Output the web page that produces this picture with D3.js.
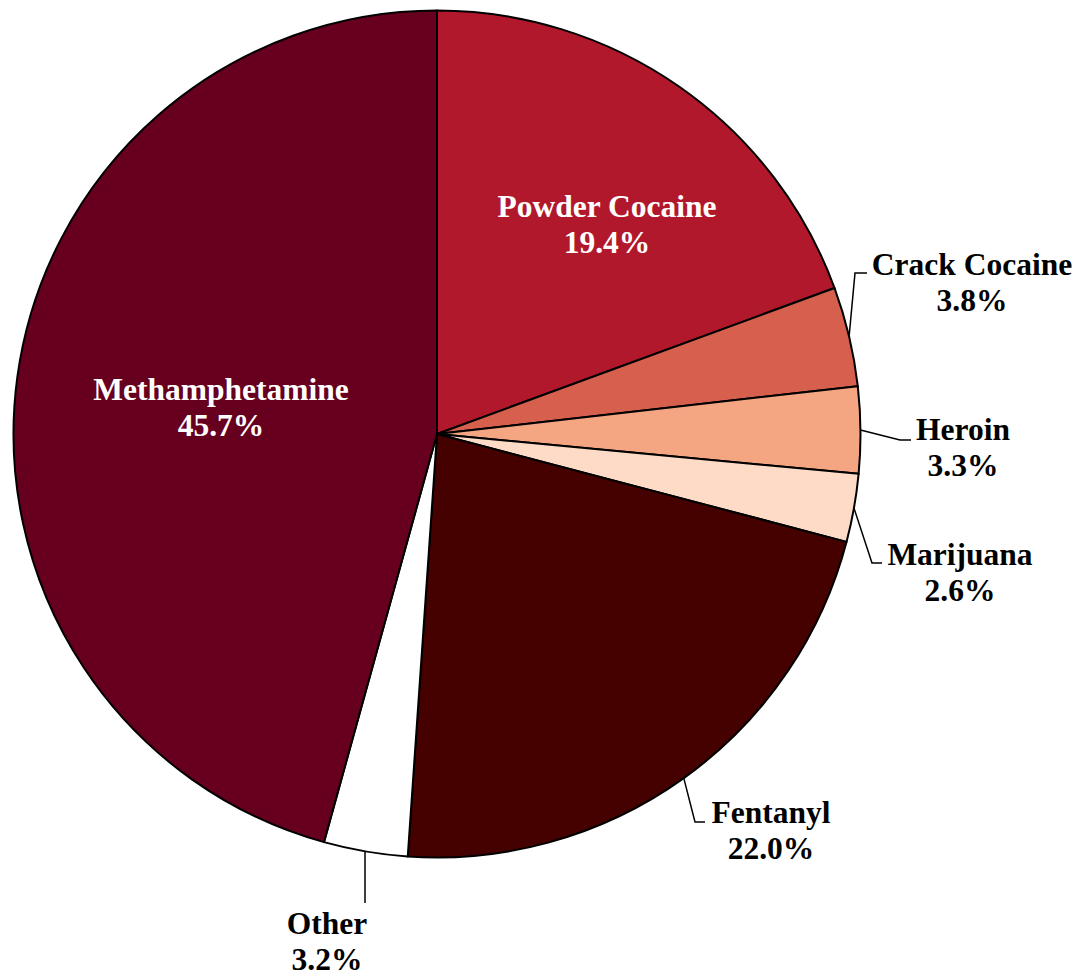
<!DOCTYPE html>
<html>
<head>
<meta charset="utf-8">
<script src="https://cdn.jsdelivr.net/npm/d3@7"></script>
<style>
  html, body { margin: 0; padding: 0; background: #fff; }
  svg text { font-family: "Liberation Serif", "Times New Roman", serif; font-weight: bold; }
</style>
</head>
<body>
<div id="chart"></div>
<script>
const drugs = ["Powder Cocaine", "Crack Cocaine", "Heroin", "Marijuana", "Fentanyl", "Other", "Methamphetamine"];
const shares = [19.4, 3.8, 3.3, 2.6, 22.0, 3.2, 45.7];
const colors = ["#b2182b", "#d6604d", "#f4a582", "#fddbc7", "#450000", "#ffffff", "#67001f"];

// where each label sits: text centre x, first baseline, and leader elbow / end (no elbow = inside)
const labelLayout = {
  "Powder Cocaine": { x: 607, y: 217, fill: "#fff" },
  "Methamphetamine": { x: 221, y: 400, fill: "#fff" },
  "Crack Cocaine": { x: 972, y: 275, elbow: [855, 273], end: [867, 273] },
  "Heroin": { x: 963, y: 440, elbow: [900, 440], end: [911, 440] },
  "Marijuana": { x: 960, y: 565, elbow: [872, 563], end: [882, 563] },
  "Fentanyl": { x: 771, y: 823, elbow: [695, 822], end: [705, 822] },
  "Other": { x: 327, y: 934, elbow: [365, 903], end: null }
};

const width = 1089, height = 976;
const cx = 437, cy = 434, radius = 423.5;

const svg = d3.select("#chart").append("svg")
  .attr("width", width)
  .attr("height", height);

const data = drugs.map((d, i) => ({ name: d, value: shares[i], color: colors[i] }));

const pie = d3.pie().value(d => d.value).sort(null);
const arc = d3.arc().innerRadius(0).outerRadius(radius);
const arcs = pie(data);

const g = svg.append("g").attr("transform", `translate(${cx},${cy})`);

g.selectAll("path")
  .data(arcs)
  .enter()
  .append("path")
  .attr("d", arc)
  .attr("fill", d => d.data.color)
  .attr("stroke", "#000")
  .attr("stroke-width", 2)
  .attr("stroke-linejoin", "round");

// leader lines
arcs.forEach(d => {
  const lay = labelLayout[d.data.name];
  if (!lay.elbow) return;
  const mid = (d.startAngle + d.endAngle) / 2;
  const start = [cx + radius * Math.sin(mid), cy - radius * Math.cos(mid)];
  if (!lay.end) start[0] = lay.elbow[0];
  const pts = [start, lay.elbow];
  if (lay.end) pts.push(lay.end);
  svg.append("path")
    .attr("d", d3.line()(pts))
    .attr("fill", "none")
    .attr("stroke", "#000")
    .attr("stroke-width", 1.5);
});

// labels
arcs.forEach(d => {
  const lay = labelLayout[d.data.name];
  const t = svg.append("text")
    .attr("text-anchor", "middle")
    .attr("font-size", 31.5)
    .attr("fill", lay.fill || "#000");
  t.append("tspan").attr("x", lay.x).attr("y", lay.y).text(d.data.name);
  t.append("tspan").attr("x", lay.x).attr("y", lay.y + 36).text(d.data.value.toFixed(1) + "%");
});
</script>
</body>
</html>
